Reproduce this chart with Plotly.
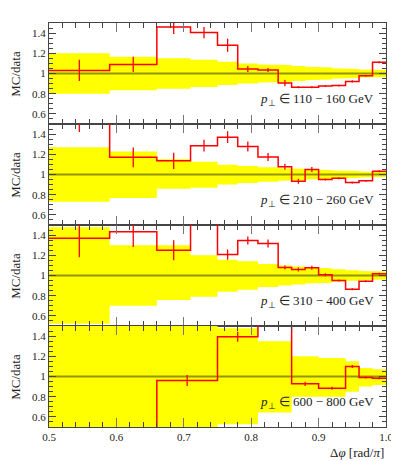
import plotly.graph_objects as go
from plotly.subplots import make_subplots

# bin edges in delta phi (units of pi)
edges_fine = [0.5, 0.59, 0.66, 0.71, 0.75, 0.78, 0.81, 0.84, 0.86, 0.88,
              0.90, 0.92, 0.94, 0.96, 0.98, 1.0]
edges_coarse = [0.5, 0.59, 0.66, 0.75, 0.81, 0.86, 0.90, 0.94, 0.96, 0.98, 1.0]

pt_labels = ["110 − 160", "210 − 260", "310 − 400", "600 − 800"]

# MC/data ratio and its stat error, per pT bin
mc_1 = [1.03, 1.09, 1.46, 1.405, 1.28, 1.045, 1.035, 0.905, 0.865, 0.865,
        0.877, 0.88, 0.922, 0.977, 1.112]
err_1 = [0.105, 0.075, 0.07, 0.055, 0.065, 0.03, 0.02, 0.03, 0.01, 0.01,
         0.008, 0.008, 0.01, 0.01, 0.01]
mc_2 = [1.62, 1.17, 1.135, 1.285, 1.37, 1.277, 1.173, 1.077, 0.933, 1.05,
        0.95, 0.963, 0.92, 0.937, 1.033]
err_2 = [0.2, 0.097, 0.08, 0.058, 0.058, 0.05, 0.04, 0.03, 0.025, 0.025,
         0.01, 0.01, 0.008, 0.008, 0.01]
mc_3 = [1.37, 1.433, 1.25, 1.65, 1.207, 1.347, 1.317, 1.08, 1.06, 1.077,
        1.007, 0.95, 0.863, 0.943, 1.017]
err_3 = [0.19, 0.15, 0.1, 0.1, 0.05, 0.04, 0.04, 0.02, 0.02, 0.02,
         0.015, 0.01, 0.01, 0.01, 0.01]
mc_4 = [0.0, 0.0, 0.96, 1.393, 1.7, 0.927, 0.883, 1.1, 0.99, 0.983]
err_4 = [0, 0, 0.055, 0.05, 0, 0.02, 0.015, 0.015, 0.01, 0.01]

# data uncertainty band (upper / lower half widths)
band_hi_1 = [0.2, 0.167, 0.15, 0.137, 0.117, 0.10, 0.09, 0.083, 0.075, 0.067,
             0.06, 0.052, 0.045, 0.04, 0.035]
band_lo_1 = [0.2, 0.167, 0.15, 0.133, 0.113, 0.10, 0.09, 0.083, 0.075, 0.067,
             0.06, 0.052, 0.045, 0.04, 0.035]
band_hi_2 = [0.27, 0.227, 0.15, 0.127, 0.097, 0.083, 0.073, 0.063, 0.057, 0.05,
             0.045, 0.04, 0.035, 0.03, 0.025]
band_lo_2 = [0.27, 0.233, 0.14, 0.13, 0.10, 0.083, 0.073, 0.063, 0.057, 0.05,
             0.045, 0.04, 0.035, 0.03, 0.025]
band_hi_3 = [0.477, 0.30, 0.30, 0.20, 0.157, 0.14, 0.115, 0.10, 0.09, 0.08,
             0.073, 0.063, 0.053, 0.045, 0.04]
band_lo_3 = [0.477, 0.30, 0.243, 0.21, 0.16, 0.14, 0.115, 0.10, 0.09, 0.08,
             0.073, 0.063, 0.053, 0.045, 0.04]
band_hi_4 = [0.7, 0.7, 0.7, 0.477, 0.35, 0.2, 0.183, 0.15, 0.083, 0.073]
band_lo_4 = [0.7, 0.7, 0.7, 0.473, 0.357, 0.2, 0.2, 0.15, 0.1, 0.083]

panels = [
    (edges_fine, mc_1, err_1, band_hi_1, band_lo_1),
    (edges_fine, mc_2, err_2, band_hi_2, band_lo_2),
    (edges_fine, mc_3, err_3, band_hi_3, band_lo_3),
    (edges_coarse, mc_4, err_4, band_hi_4, band_lo_4),
]

y_ticks = [0.6, 0.8, 1.0, 1.2, 1.4]
y_ticktext = ["0.6", "0.8", "1", "1.2", "1.4"]
x_ticks = [0.5, 0.6, 0.7, 0.8, 0.9, 1.0]
x_ticktext = ["0.5", "0.6", "0.7", "0.8", "0.9", "1.0"]

font_name = "Liberation Serif"
frame = "#444444"
red = "#ff0000"

fig = make_subplots(rows=4, cols=1, shared_xaxes=True, vertical_spacing=0)

for i, (edges, mc, err, b_hi, b_lo) in enumerate(panels):
    row = i + 1
    # step outline of the band: upper edge left->right, lower edge right->left
    bx, by = [], []
    for k in range(len(mc)):
        bx += [edges[k], edges[k + 1]]
        by += [1 + b_hi[k], 1 + b_hi[k]]
    lx, ly = [], []
    for k in range(len(mc)):
        lx += [edges[k], edges[k + 1]]
        ly += [1 - b_lo[k], 1 - b_lo[k]]
    fig.add_trace(go.Scatter(x=bx + lx[::-1], y=by + ly[::-1], fill='toself',
                             fillcolor='#ffff00', line=dict(width=0),
                             mode='lines', hoverinfo='skip'), row=row, col=1)
    # reference line at 1
    fig.add_trace(go.Scatter(x=[edges[0], edges[-1]], y=[1, 1], mode='lines',
                             line=dict(color='rgba(0,0,0,0.42)', width=1.8)),
                  row=row, col=1)
    # MC histogram
    fig.add_trace(go.Scatter(x=edges, y=mc + [mc[-1]], mode='lines',
                             line=dict(color=red, width=1.5, shape='hv')),
                  row=row, col=1)
    centers = [(edges[k] + edges[k + 1]) / 2 for k in range(len(mc))]
    fig.add_trace(go.Scatter(x=centers, y=mc, mode='markers',
                             marker=dict(size=1, color='rgba(0,0,0,0)'),
                             error_y=dict(type='data', array=err, width=0,
                                          color=red, thickness=1.3)),
                  row=row, col=1)

    fig.update_yaxes(range=[0.5, 1.5], tickmode='array', tickvals=y_ticks,
                     ticktext=y_ticktext, ticks='inside', ticklen=7,
                     tickcolor=frame, showline=True, linecolor=frame,
                     mirror='allticks', showgrid=False, zeroline=False,
                     automargin=False,
                     minor=dict(tickmode='linear', tick0=0.5, dtick=0.05,
                                ticks='inside', ticklen=4, tickcolor=frame,
                                showgrid=False),
                     tickfont=dict(family=font_name, size=11, color='#222'),
                     row=row, col=1)
    fig.update_xaxes(range=[0.5, 1.0], tickmode='array', tickvals=x_ticks,
                     ticktext=x_ticktext, ticks='inside', ticklen=9,
                     tickcolor='#777777', showline=True, linecolor=frame,
                     mirror='allticks', showgrid=False, zeroline=False,
                     automargin=False,
                     minor=dict(tickmode='linear', tick0=0.5, dtick=0.02,
                                ticks='inside', ticklen=5, tickcolor=frame,
                                showgrid=False),
                     tickfont=dict(family=font_name, size=11, color='#222'),
                     row=row, col=1)

    # pT range label per panel
    fig.add_annotation(text="<i>p</i><sub>⊥</sub> ∈ " + pt_labels[i] + " GeV",
                       xref='x domain', yref='y domain', x=0.97, y=0.24,
                       xanchor='right', yanchor='middle', showarrow=False,
                       font=dict(family=font_name, size=13, color='#222'),
                       row=row, col=1)
    # y title, centred on the panel (rows are stacked with equal height)
    fig.add_annotation(text="MC/data", xref='paper', yref='paper',
                       x=-0.1, y=1 - (i + 0.5) / 4, textangle=-90,
                       xanchor='center', yanchor='middle', showarrow=False,
                       font=dict(family=font_name, size=13, color='#222'))

fig.add_annotation(text="Δ<i>φ</i> [rad/<i>π</i>]", xref='paper', yref='paper',
                   x=1.0, y=-0.062, xanchor='right', yanchor='middle',
                   showarrow=False,
                   font=dict(family=font_name, size=13, color='#222'))

# the page body adds an 8px offset, so the figure is 8px smaller
fig.update_layout(width=391, height=453, showlegend=False,
                  margin=dict(l=41, r=13, t=15, b=34, autoexpand=False),
                  plot_bgcolor='white', paper_bgcolor='white')

fig.write_html('out.html')
